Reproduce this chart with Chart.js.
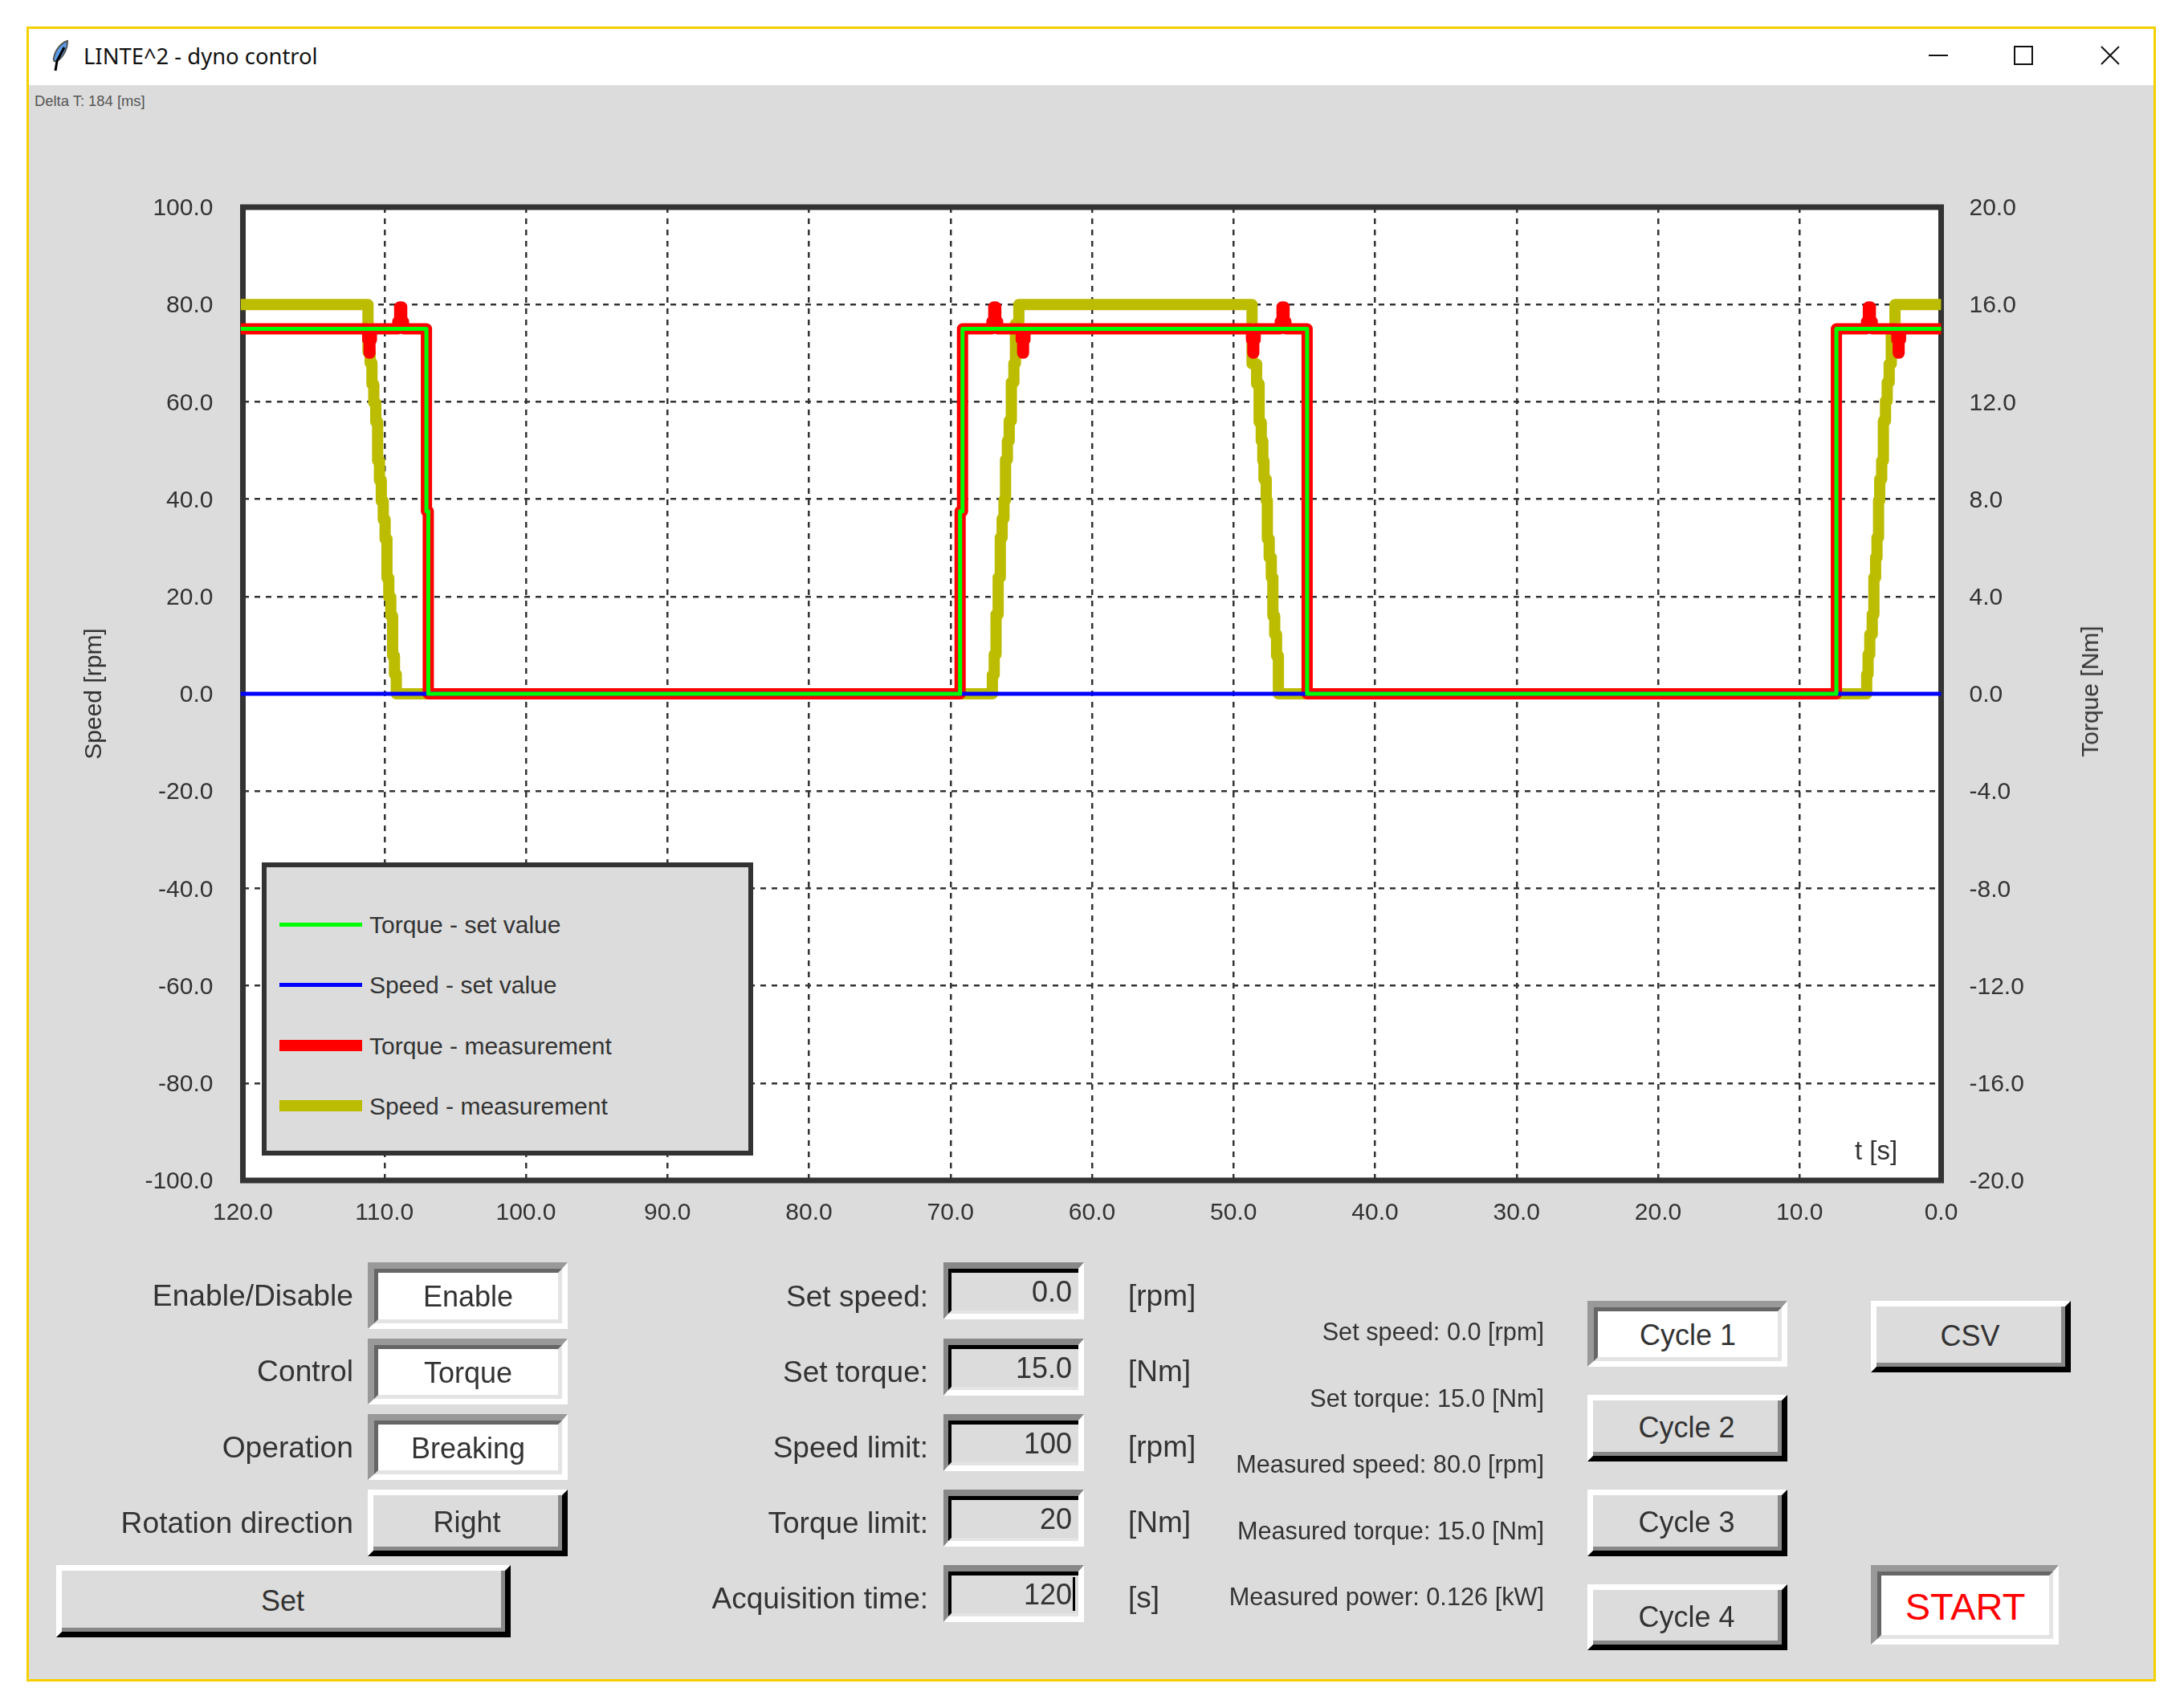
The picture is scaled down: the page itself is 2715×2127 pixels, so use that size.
<!DOCTYPE html>
<html>
<head>
<meta charset="utf-8">
<title>LINTE^2 - dyno control</title>
<script src="https://cdn.jsdelivr.net/npm/chart.js@4/dist/chart.umd.min.js"></script>
<style>
  html, body { margin: 0; padding: 0; background: #fff; }
  #page { position: relative; width: 2715px; height: 2127px; overflow: hidden; font-family: "Liberation Sans", Arial, sans-serif; color: #333; }
  #win { position: absolute; left: 33px; top: 33px; width: 2652px; height: 2061px; box-sizing: border-box; border: 3px solid #f5d000; background: #dcdcdc; }
  #titlebar { position: absolute; left: 36px; top: 36px; width: 2646px; height: 70px; background: #fff; }
  #title { position: absolute; left: 104px; top: 50px; font: 27.4px "Noto Sans", sans-serif; color: #111; line-height: 40px; white-space: nowrap; }
  canvas { position: absolute; left: 0; top: 0; }
  .txt { position: absolute; white-space: nowrap; line-height: 44px; height: 44px; margin-top: -22px; }
  .box { position: absolute; box-sizing: border-box; border-style: solid; }
  .box > div { position: absolute; inset: 0; box-sizing: border-box; border-style: solid; display: flex; align-items: center; justify-content: center; font-size: 36px; white-space: nowrap; }
  .raised { border-width: 7px; border-color: #fff #000 #000 #fff; background: #dcdcdc; }
  .raised > div { border-width: 0 5px 5px 0; border-color: #888; padding: 4px 0 0 3px; }
  .sunken { border-width: 8px 7px 7px 8px; border-color: #999 #fff #fff #999; background: #fff; }
  .sunken > div { border-width: 5px; border-color: #666 #e4e4e4 #e4e4e4 #666; padding-top: 2px; }
  .entry { border-width: 8px 7px 7px 6px; border-color: #888 #fff #fff #888; background: #dcdcdc; }
  .entry > div { border-width: 5px 0 4px 4px; border-color: #000 #e4e4e4 #e4e4e4 #000; justify-content: flex-end; align-items: flex-start; padding: 3px 8px 0 0; }
  #legend { position: absolute; left: 326px; top: 1074px; width: 612px; height: 365px; box-sizing: border-box; border: 6px solid #333; background: #dcdcdc; }
  .swatch { position: absolute; left: 348px; width: 103px; }
</style>
</head>
<body>
<div id="page">
  <div id="win"></div>
  <div id="titlebar"></div>
  <svg style="position:absolute;left:58px;top:46px" width="34" height="48" viewBox="0 0 34 48">
    <path d="M26 5 C19 7 11 15 9 26 C8 30 10 31 13 30 C20 26 26 16 26 5 Z" fill="#5b9be6" stroke="#555" stroke-width="2"/>
    <path d="M22 13 L13 30 L11 42" fill="none" stroke="#000" stroke-width="3"/>
  </svg>
  <div id="title">LINTE^2 - dyno control</div>
  <div style="position:absolute;left:2402px;top:68px;width:24px;height:2px;background:#111"></div>
  <div style="position:absolute;left:2508px;top:57px;width:24px;height:24px;box-sizing:border-box;border:2px solid #111"></div>
  <svg style="position:absolute;left:2616px;top:57px" width="24" height="24" viewBox="0 0 24 24"><path d="M1 1 L23 23 M23 1 L1 23" stroke="#111" stroke-width="2"/></svg>
  <div class="txt" style="left:43px;top:126px;font-size:18.4px;color:#555">Delta T: 184 [ms]</div>
  <canvas id="plot" width="2715" height="2127"></canvas>
  <div id="legend"></div>
  <div class="txt" style="left:2310px;top:1433px;font-size:33px">t [s]</div>
  <div class="txt" style="left:2603px;top:861px;font-size:30px;transform:translate(-50%,0) rotate(-90deg)">Torque [Nm]</div>
</div>
<script>
// time axis runs backwards, newest sample on the right
const timeTicks = [120, 110, 100, 90, 80, 70, 60, 50, 40, 30, 20, 10, 0];
const speedTicks = [100, 80, 60, 40, 20, 0, -20, -40, -60, -80, -100];
const torqueTicks = [20, 16, 12, 8, 4, 0, -4, -8, -12, -16, -20];

const seriesNames = ['Torque - set value', 'Speed - set value', 'Torque - measurement', 'Speed - measurement'];
const seriesColors = ['#00ff00', '#0000ff', '#ff0000', '#bcbc00'];

const torqueSetTime = [120.15, 107.03, 106.9, 69.32, 69.15, 44.8, 7.4, 0];
const torqueSetValue = [15, 7.5, 0, 7.5, 15, 0, 15, 15];

const speedSetTime = [120.15, 0];
const speedSetValue = [0, 0];

const torqueMeasTime = [120.15,
  111.18, 111.08, 111.02, 110.92,
  109.05, 108.92, 108.78, 108.65,
  107.03, 106.9, 69.32, 69.15,
  67.07, 66.94, 66.8, 66.67,
  65.0, 64.9, 64.84, 64.74,
  48.73, 48.63, 48.57, 48.47,
  46.7, 46.57, 46.43, 46.3,
  44.8, 7.4,
  5.27, 5.14, 5.0, 4.87,
  3.13, 3.03, 2.97, 2.87,
  0];
const torqueMeasValue = [15,
  14.55, 14, 14.55, 15,
  15.3, 15.9, 15.3, 15,
  7.5, 0, 7.5, 15,
  15.3, 15.9, 15.3, 15,
  14.55, 14, 14.55, 15,
  14.55, 14, 14.55, 15,
  15.3, 15.9, 15.3, 15,
  0, 15,
  15.3, 15.9, 15.3, 15,
  14.55, 14, 14.55, 15,
  15];

const speedMeasTime = [120.15,
  111.16, 111.01, 110.88, 110.75, 110.61, 110.48, 110.35, 110.22, 110.08, 109.95, 109.82, 109.69, 109.55, 109.42, 109.29, 109.16,
  67.04, 66.91, 66.78, 66.63, 66.48, 66.35, 66.22, 66.11, 65.98, 65.85, 65.7, 65.52, 65.41, 65.17,
  48.69, 48.37, 48.19, 48.04, 47.93, 47.85, 47.69, 47.61, 47.48, 47.33, 47.22, 47.09, 46.96, 46.83,
  5.26, 5.16, 5.04, 4.87, 4.75, 4.63, 4.53, 4.42, 4.34, 4.2, 4.08, 3.93, 3.81, 3.67, 3.52, 3.26,
  0];
const speedMeasValue = [80,
  70.2, 68, 63.6, 59.8, 55.9, 47.9, 43.9, 39.6, 35.8, 31.8, 23.8, 19.9, 16, 7.8, 4, 0,
  3.9, 8.1, 16.3, 23.9, 32.1, 36, 39.8, 48.1, 52, 56.1, 64, 67.9, 76, 80,
  67.8, 63.7, 55.8, 52, 47.9, 44.1, 39.7, 31.8, 28, 23.9, 16, 12.2, 7.8, 0,
  4, 8.1, 12.2, 16.3, 23.9, 28, 32.1, 39.7, 44.1, 47.9, 56.1, 60.2, 64, 67.8, 74.1, 80,
  80];

const AREA = { left: 302.5, right: 2417.5, top: 258, bottom: 1470 };
const TICK_FONT = { family: '"Liberation Sans", Arial, sans-serif', size: 30 };

function pts(xs, ys) {
  return xs.map((x, i) => ({ x, y: ys[i] }));
}

function useTicks(list) {
  return scale => { scale.ticks = list.map(value => ({ value })); };
}

// white plot background under the grid, thick frame under the curves
const framePlugin = {
  id: 'frame',
  beforeDraw(chart) {
    const { ctx, chartArea: a } = chart;
    ctx.save();
    ctx.fillStyle = '#fff';
    ctx.fillRect(a.left, a.top, a.right - a.left, a.bottom - a.top);
    ctx.restore();
  },
  beforeDatasetsDraw(chart) {
    const { ctx, chartArea: a } = chart;
    ctx.save();
    ctx.strokeStyle = '#333';
    ctx.lineWidth = 7;
    ctx.strokeRect(a.left, a.top, a.right - a.left, a.bottom - a.top);
    ctx.restore();
  }
};

const lineStyle = { stepped: true, pointRadius: 0, borderJoinStyle: 'round', borderCapStyle: 'butt', fill: false, clip: 4 };
const dashGrid = { color: '#333', lineWidth: 2.5, drawTicks: false };
const dashBorder = { display: false, dash: [7, 7] };

new Chart(document.getElementById('plot').getContext('2d'), {
  type: 'line',
  data: {
    datasets: [
      { ...lineStyle, label: seriesNames[0], data: pts(torqueSetTime, torqueSetValue), yAxisID: 'y1', borderColor: seriesColors[0], borderWidth: 5 },
      { ...lineStyle, label: seriesNames[1], data: pts(speedSetTime, speedSetValue), yAxisID: 'y', borderColor: seriesColors[1], borderWidth: 5 },
      { ...lineStyle, label: seriesNames[2], data: pts(torqueMeasTime, torqueMeasValue), yAxisID: 'y1', borderColor: seriesColors[2], borderWidth: 14 },
      { ...lineStyle, label: seriesNames[3], data: pts(speedMeasTime, speedMeasValue), yAxisID: 'y', borderColor: seriesColors[3], borderWidth: 14 }
    ]
  },
  options: {
    responsive: false,
    animation: false,
    devicePixelRatio: 1,
    layout: { padding: { top: AREA.top, left: 0, right: 0, bottom: 0 } },
    plugins: { legend: { display: false }, tooltip: { enabled: false } },
    scales: {
      x: {
        type: 'linear', reverse: true, min: 0, max: 120,
        afterBuildTicks: useTicks(timeTicks),
        afterFit: s => { s.height = 2127 - AREA.bottom; },
        grid: dashGrid,
        border: dashBorder,
        ticks: { font: TICK_FONT, color: '#333', padding: 23, maxRotation: 0, autoSkip: false, callback: v => v.toFixed(1) }
      },
      y: {
        type: 'linear', position: 'left', min: -100, max: 100,
        afterBuildTicks: useTicks(speedTicks),
        afterFit: s => { s.width = AREA.left; },
        grid: dashGrid,
        border: dashBorder,
        title: { display: true, text: 'Speed [rpm]', color: '#333', font: TICK_FONT, padding: { top: 100, bottom: 0 } },
        ticks: { font: TICK_FONT, color: '#333', padding: 37, labelOffset: 2, autoSkip: false, callback: v => v.toFixed(1) }
      },
      y1: {
        type: 'linear', position: 'right', min: -20, max: 20,
        afterBuildTicks: useTicks(torqueTicks),
        afterFit: s => { s.width = 2715 - AREA.right; },
        grid: { display: false, drawTicks: false },
        border: { display: false },
        ticks: { font: TICK_FONT, color: '#333', padding: 35, labelOffset: 2, autoSkip: false, callback: v => v.toFixed(1) }
      }
    }
  },
  plugins: [framePlugin]
});

// legend panel sits on top of the grid
const page = document.getElementById('page');
const legendRows = [1151, 1226, 1302, 1377];
const legendHeights = [5, 5, 14, 14];
seriesNames.forEach((name, i) => {
  const sw = document.createElement('div');
  sw.className = 'swatch';
  sw.style.top = (legendRows[i] - legendHeights[i] / 2) + 'px';
  sw.style.height = legendHeights[i] + 'px';
  sw.style.background = seriesColors[i];
  page.appendChild(sw);
  label(460, legendRows[i] + 1, name, 30, 'left');
});

function label(x, y, text, size, align, color) {
  const el = document.createElement('div');
  el.className = 'txt';
  el.textContent = text;
  el.style.top = y + 'px';
  el.style.fontSize = size + 'px';
  if (color) el.style.color = color;
  if (align === 'right') el.style.right = (2715 - x) + 'px';
  else el.style.left = x + 'px';
  page.appendChild(el);
}

function widget(kind, x0, y0, x1, y1, text, color, size) {
  const el = document.createElement('div');
  el.className = 'box ' + kind;
  el.style.left = x0 + 'px';
  el.style.top = y0 + 'px';
  el.style.width = (x1 - x0) + 'px';
  el.style.height = (y1 - y0) + 'px';
  const inner = document.createElement('div');
  inner.textContent = text;
  if (color) inner.style.color = color;
  if (size) inner.style.fontSize = size + 'px';
  el.appendChild(inner);
  page.appendChild(el);
}

// left column
label(440, 1613, 'Enable/Disable', 37.2, 'right');
label(440, 1707, 'Control', 37.2, 'right');
label(440, 1802, 'Operation', 37.2, 'right');
label(440, 1896, 'Rotation direction', 37.2, 'right');
widget('sunken', 458, 1572, 707, 1655, 'Enable');
widget('sunken', 458, 1667, 707, 1749, 'Torque');
widget('sunken', 458, 1761, 707, 1843, 'Breaking');
widget('raised', 458, 1855, 707, 1938, 'Right');
widget('raised', 70, 1949, 636, 2039, 'Set');

// entries
label(1156, 1615, 'Set speed:', 37, 'right');
label(1156, 1709, 'Set torque:', 37, 'right');
label(1156, 1803, 'Speed limit:', 37, 'right');
label(1156, 1897, 'Torque limit:', 37, 'right');
label(1156, 1991, 'Acquisition time:', 37, 'right');
widget('entry', 1175, 1572, 1350, 1643, '0.0');
widget('entry', 1175, 1667, 1350, 1738, '15.0');
widget('entry', 1175, 1761, 1350, 1832, '100');
widget('entry', 1175, 1855, 1350, 1926, '20');
widget('entry', 1175, 1949, 1350, 2020, '120');
label(1405, 1614, '[rpm]', 37);
label(1405, 1708, '[Nm]', 37);
label(1405, 1802, '[rpm]', 37);
label(1405, 1896, '[Nm]', 37);
label(1405, 1990, '[s]', 37);

// readouts
label(1923, 1659, 'Set speed: 0.0 [rpm]', 30.7, 'right');
label(1923, 1742, 'Set torque: 15.0 [Nm]', 30.7, 'right');
label(1923, 1824, 'Measured speed: 80.0 [rpm]', 30.7, 'right');
label(1923, 1907, 'Measured torque: 15.0 [Nm]', 30.7, 'right');
label(1923, 1989, 'Measured power: 0.126 [kW]', 30.7, 'right');

// cycle buttons
widget('sunken', 1977, 1620, 2226, 1702, 'Cycle 1');
widget('raised', 1977, 1737, 2226, 1820, 'Cycle 2');
widget('raised', 1977, 1855, 2226, 1938, 'Cycle 3');
widget('raised', 1977, 1973, 2226, 2055, 'Cycle 4');
widget('raised', 2330, 1620, 2579, 1709, 'CSV');
widget('sunken', 2330, 1949, 2564, 2048, 'START', '#ff0000', 47);

// text cursor in the acquisition time entry
const cursor = document.createElement('div');
cursor.style.cssText = 'position:absolute;left:1336px;top:1964px;width:3px;height:42px;background:#000';
page.appendChild(cursor);
</script>
</body>
</html>
